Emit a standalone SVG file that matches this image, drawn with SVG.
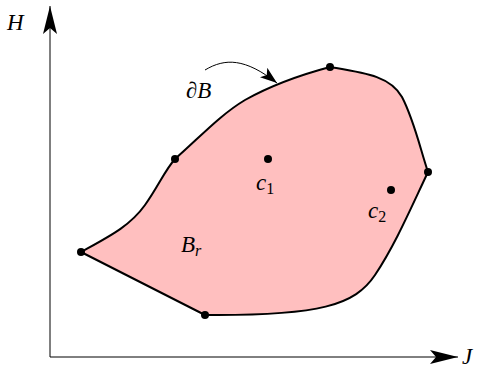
<svg xmlns="http://www.w3.org/2000/svg" width="480" height="370" viewBox="0 0 480 370">
<style>
.t{font-family:"Liberation Serif","DejaVu Serif",serif;font-style:italic;font-size:23px;fill:#000}
.s{font-family:"Liberation Serif","DejaVu Serif",serif;font-style:normal;font-size:16px;fill:#000}
.si{font-family:"Liberation Serif","DejaVu Serif",serif;font-style:italic;font-size:16px;fill:#000}
.ax{stroke:#000;stroke-width:1;fill:none}
.dot{fill:#000}
</style>
<defs>
<marker id="big" markerWidth="30" markerHeight="14" refX="28" refY="7" orient="auto" markerUnits="userSpaceOnUse">
<path d="M0,0 L28,7 L0,14 L6,7 Z" fill="#000"/>
</marker>
<marker id="sm" markerWidth="18" markerHeight="12" refX="17" refY="6" orient="auto" markerUnits="userSpaceOnUse">
<path d="M0,0 L17,6 L0,12 L4,6 Z" fill="#000"/>
</marker>
</defs>
<g id="axes">
<line class="ax" x1="50" y1="357" x2="50" y2="6" marker-end="url(#big)"/>
<line class="ax" x1="50" y1="357" x2="458" y2="357" marker-end="url(#big)"/>
<text class="t" x="7" y="30">H</text>
<text class="t" x="462" y="364">J</text>
</g>
<g id="region">
<path d="M81,252 C110,236 130,226 145,205 C158,187 165,170 175,159 C200,137 220,115 245,100 C270,86 300,75 330,67 C365,73 390,76 402,97 C414,120 420,148 428,172 C410,210 395,245 375,275 C355,305 320,316 205,315 Z" fill="#ffbfbf" stroke="#000" stroke-width="2" stroke-linejoin="round"/>
</g>
<g id="connectors">
<path d="M205,70 C225,58 245,58 277,83" fill="none" stroke="#000" stroke-width="1" marker-end="url(#sm)"/>
</g>
<g id="points">
<circle class="dot" cx="81" cy="252" r="4"/>
<circle class="dot" cx="175" cy="159" r="4"/>
<circle class="dot" cx="330" cy="67" r="4"/>
<circle class="dot" cx="428" cy="172" r="4"/>
<circle class="dot" cx="205" cy="315" r="4"/>
<circle class="dot" cx="268" cy="159" r="4"/>
<circle class="dot" cx="391" cy="190" r="4"/>
</g>
<g id="labels">
<text class="t" x="186" y="98">∂B</text>
<text class="t" x="256" y="190">c<tspan class="s" dy="4">1</tspan></text>
<text class="t" x="368" y="218">c<tspan class="s" dy="4">2</tspan></text>
<text class="t" x="181" y="252">B<tspan class="si" dy="4">r</tspan></text>
</g>
</svg>
